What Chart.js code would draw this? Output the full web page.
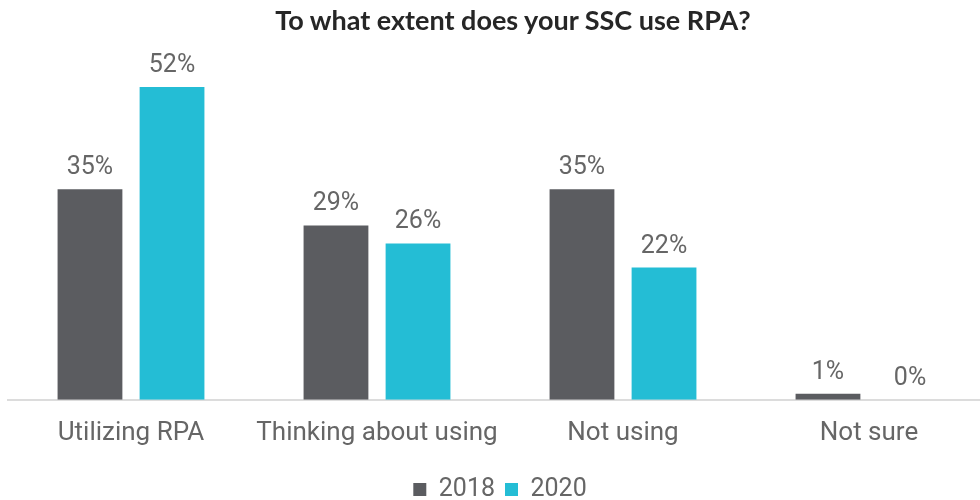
<!DOCTYPE html>
<html>
<head>
<meta charset="utf-8">
<script src="https://cdn.jsdelivr.net/npm/chart.js@4.4.1/dist/chart.umd.min.js"></script>
<style>
  html, body { margin: 0; padding: 0; background: #fff; overflow: hidden; width: 980px; height: 500px; }
  #wrap { position: absolute; left: 0; top: 0; width: 1000px; height: 512px; }
  #title { position: absolute; left: 0; top: 6px; width: 1026px; text-align: center;
           font: bold 27px Lato, "Open Sans", sans-serif; line-height: 28px; color: #262626; }
</style>
</head>
<body>
<div id="wrap"><canvas id="c" width="1000" height="512"></canvas></div>
<div id="title"></div>
<script>
const categories = ["Utilizing RPA", "Thinking about using", "Not using", "Not sure"];
const series2018 = [35, 29, 35, 1];
const series2020 = [52, 26, 22, 0];
const seriesNames = ["2018", "2020"];
const chartTitle = "To what extent does your SSC use RPA?";

document.getElementById('title').textContent = chartTitle;

const labelPlugin = {
  id: 'valueLabels',
  afterDatasetsDraw(chart) {
    const ctx = chart.ctx;
    ctx.save();
    ctx.font = '25px Roboto, "Liberation Sans", Arial, sans-serif';
    ctx.fillStyle = '#666666';
    ctx.textAlign = 'center';
    ctx.textBaseline = 'alphabetic';
    chart.data.datasets.forEach((ds, i) => {
      const meta = chart.getDatasetMeta(i);
      meta.data.forEach((bar, j) => {
        ctx.fillText(ds.data[j] + '%', bar.x, bar.y - 15);
      });
    });
    ctx.restore();
  }
};

new Chart(document.getElementById('c'), {
  type: 'bar',
  data: {
    labels: categories,
    datasets: [
      { label: seriesNames[0], data: series2018, backgroundColor: '#5b5c60' },
      { label: seriesNames[1], data: series2020, backgroundColor: '#24bdd5' }
    ]
  },
  options: {
    responsive: false,
    animation: false,
    layout: { padding: { left: 8, right: 8, bottom: 0, top: 39 } },
    datasets: { bar: { categoryPercentage: 0.667, barPercentage: 0.79 } },
    scales: {
      x: {
        grid: { display: false, drawTicks: false },
        border: { display: true, color: '#dcdcdc', width: 2 },
        ticks: {
          color: '#666666',
          padding: 18,
          minRotation: 0,
          maxRotation: 0,
          autoSkip: false,
          font: { family: 'Roboto, "Liberation Sans", Arial, sans-serif', size: 26 }
        }
      },
      y: {
        display: false,
        min: 0,
        max: 60
      }
    },
    plugins: {
      title: { display: false },
      legend: {
        position: 'bottom',
        labels: {
          color: '#666666',
          boxWidth: 13,
          boxHeight: 13,
          padding: 10,
          font: { family: 'Roboto, "Liberation Sans", Arial, sans-serif', size: 25 }
        }
      },
      tooltip: { enabled: false }
    }
  },
  plugins: [labelPlugin]
});
</script>
</body>
</html>
